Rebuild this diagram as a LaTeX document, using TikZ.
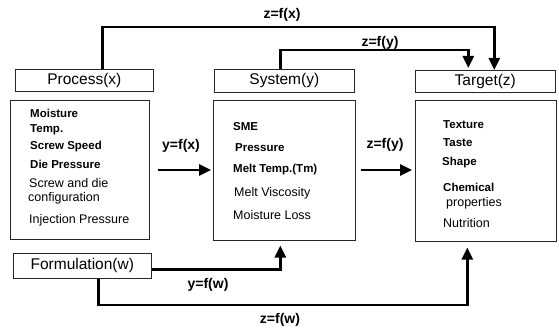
\documentclass[tikz,border=0pt]{standalone}
\usepackage{fontspec}
\setmainfont{Liberation Sans}
\usetikzlibrary{arrows.meta}
\begin{document}
\begin{tikzpicture}[x=1pt,y=-1pt,
  box/.style={draw=black!85,line width=0.6pt,inner sep=0pt,anchor=north west},
  head/.style={font=\fontsize{15.5}{17}\selectfont},
  itb/.style={anchor=west,inner sep=0pt,font=\fontsize{11.5}{12}\selectfont\bfseries},
  itr/.style={anchor=west,inner sep=0pt,font=\fontsize{12.5}{13}\selectfont},
  lab/.style={inner sep=0pt,font=\fontsize{14}{15}\selectfont\bfseries},
  arr/.style={line width=2.6pt,-{Triangle[length=12pt,width=11pt]}},
  conn/.style={line width=2.6pt}]
\useasboundingbox (0,0) rectangle (559,328);
% header boxes
\node[box,minimum width=138pt,minimum height=22pt] (phead) at (15,69) {};
\node[head] at (phead.center) {Process(x)};
\node[box,minimum width=140pt,minimum height=23pt] (shead) at (214,69) {};
\node[head] at (shead.center) {System(y)};
\node[box,minimum width=140pt,minimum height=22pt] (thead) at (415,70) {};
\node[head] at (thead.center) {Target(z)};
\node[box,minimum width=138pt,minimum height=25pt] (fhead) at (13,253) {};
\node[head] at (fhead.center) {Formulation(w)};
% list boxes
\node[box,minimum width=139pt,minimum height=139pt] (plist) at (10,100) {};
\node[box,minimum width=142pt,minimum height=140pt] (slist) at (213,100) {};
\node[box,minimum width=141pt,minimum height=141pt] (tlist) at (415,100) {};
% process items
\node[itb] (p1) at (30,113) {Moisture};
\node[itb] (p2) at (30,130) {Temp.};
\node[itb] (p3) at (30,147) {Screw Speed};
\node[itb] (p4) at (30,164) {Die Pressure};
\node[itr] (p5) at (29,183) {Screw and die};
\node[itr] (p6) at (28,198) {configuration};
\node[itr] (p7) at (29,220) {Injection Pressure};
% system items
\node[itb] (s1) at (233,127) {SME};
\node[itb] (s2) at (235,148) {Pressure};
\node[itb] (s3) at (233,170) {Melt Temp.(Tm)};
\node[itr] (s4) at (234,193) {Melt Viscosity};
\node[itr] (s5) at (233,215) {Moisture Loss};
% target items
\node[itb] (t1) at (443,125) {Texture};
\node[itb] (t2) at (443,143) {Taste};
\node[itb] (t3) at (442,163) {Shape};
\node[itb] (t4) at (443,187) {Chemical};
\node[itr] (t5) at (446,203) {properties};
\node[itr] (t6) at (443,223) {Nutrition};
% labels
\node[lab] (lzx) at (282,15) {z=f(x)};
\node[lab] (lzy1) at (380,43) {z=f(y)};
\node[lab] (lyx) at (181,146) {y=f(x)};
\node[lab] (lzy2) at (385,145) {z=f(y)};
\node[lab] (lyw) at (208,285) {y=f(w)};
\node[lab] (lzw) at (280,320) {z=f(w)};
% helper coordinates
\coordinate (rzx) at (0,27);
\coordinate (rzy) at (0,50);
\coordinate (rmid) at (0,170);
\coordinate (rzw) at (0,305);
% connectors
\draw[arr] ([xshift=18pt]phead.north) coordinate (a1) -- (a1 |- rzx) -| ([xshift=9pt]thead.north);
\draw[arr,shorten >=2pt] ([xshift=-4pt]shead.north) coordinate (a2) -- (a2 |- rzy) -| ([xshift=-17pt]thead.north);
\draw[arr,shorten <=8pt,shorten >=2pt] (plist.east |- rmid) -- (slist.west |- rmid);
\draw[arr,shorten <=5pt,shorten >=3pt] (slist.east |- rmid) -- (tlist.west |- rmid);
\draw[arr,shorten >=5pt] ([yshift=-3.5pt]fhead.east) -| ([xshift=-4pt]slist.south);
\draw[arr,shorten >=6pt] ([xshift=16pt]fhead.south) coordinate (a3) -- (a3 |- rzw) -| ([xshift=-18.5pt]tlist.south);
\end{tikzpicture}
\end{document}
